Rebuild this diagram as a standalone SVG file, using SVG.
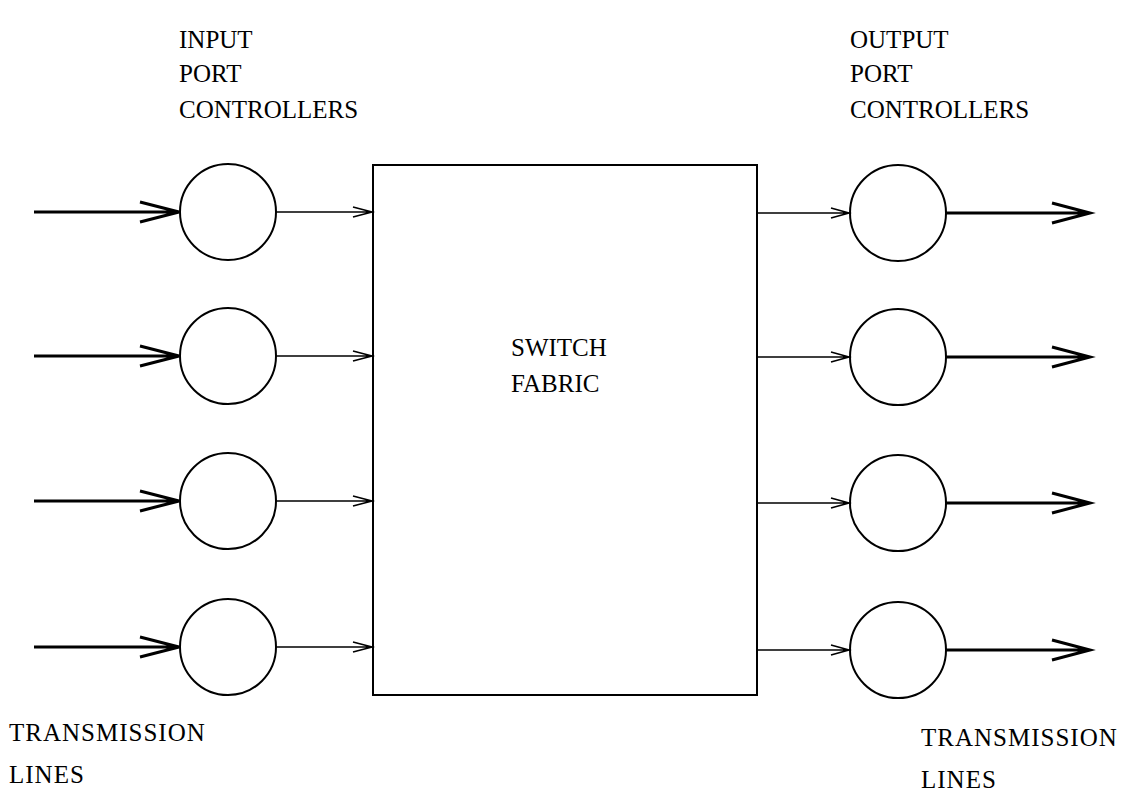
<svg xmlns="http://www.w3.org/2000/svg" width="1128" height="796" viewBox="0 0 1128 796">
<style>
.t{font-family:"Liberation Serif","Times New Roman",serif;font-size:25px;fill:#000}
.w{letter-spacing:1px}
.c{fill:none;stroke:#000;stroke-width:2}
.thick{stroke:#000;stroke-width:3;fill:none}
.thin{stroke:#000;stroke-width:1.6;fill:none}
</style>
<rect width="1128" height="796" fill="#fff"/>
<g id="labels">
<text class="t" x="179" y="48">INPUT</text>
<text class="t" x="179" y="82">PORT</text>
<text class="t" x="179" y="118">CONTROLLERS</text>
<text class="t" x="850" y="48">OUTPUT</text>
<text class="t" x="850" y="82">PORT</text>
<text class="t" x="850" y="118">CONTROLLERS</text>
<text class="t w" x="9" y="741">TRANSMISSION</text>
<text class="t w" x="9" y="783">LINES</text>
<text class="t w" x="921" y="746">TRANSMISSION</text>
<text class="t w" x="921" y="788">LINES</text>
</g>
<g id="switch-fabric">
<rect x="373" y="165" width="384" height="530" fill="none" stroke="#000" stroke-width="2"/>
<text class="t" x="511" y="356">SWITCH</text>
<text class="t" x="511" y="392">FABRIC</text>
</g>
<g id="in1"><circle class="c" cx="228" cy="212" r="48"/></g>
<g id="in2"><circle class="c" cx="228" cy="356" r="48"/></g>
<g id="in3"><circle class="c" cx="228" cy="501" r="48"/></g>
<g id="in4"><circle class="c" cx="228" cy="647" r="48"/></g>
<g id="out1"><circle class="c" cx="898" cy="213" r="48"/></g>
<g id="out2"><circle class="c" cx="898" cy="357" r="48"/></g>
<g id="out3"><circle class="c" cx="898" cy="503" r="48"/></g>
<g id="out4"><circle class="c" cx="898" cy="650" r="48"/></g>
<g id="connectors">
<path class="thick" d="M34 212H179M140 202L179 212L140 222"/>
<path class="thick" d="M34 356H179M140 346L179 356L140 366"/>
<path class="thick" d="M34 501H179M140 491L179 501L140 511"/>
<path class="thick" d="M34 647H179M140 637L179 647L140 657"/>
<path class="thin" d="M276 212H372M353 207L372 212L353 217"/>
<path class="thin" d="M276 356H372M353 351L372 356L353 361"/>
<path class="thin" d="M276 501H372M353 496L372 501L353 506"/>
<path class="thin" d="M276 647H372M353 642L372 647L353 652"/>
<path class="thin" d="M758 213H849M831 208L849 213L831 218"/>
<path class="thin" d="M758 357H849M831 352L849 357L831 362"/>
<path class="thin" d="M758 503H849M831 498L849 503L831 508"/>
<path class="thin" d="M758 650H849M831 645L849 650L831 655"/>
<path class="thick" d="M946 213H1090M1052 203L1090 213L1052 223"/>
<path class="thick" d="M946 357H1090M1052 347L1090 357L1052 367"/>
<path class="thick" d="M946 503H1090M1052 493L1090 503L1052 513"/>
<path class="thick" d="M946 650H1090M1052 640L1090 650L1052 660"/>
</g>
</svg>
